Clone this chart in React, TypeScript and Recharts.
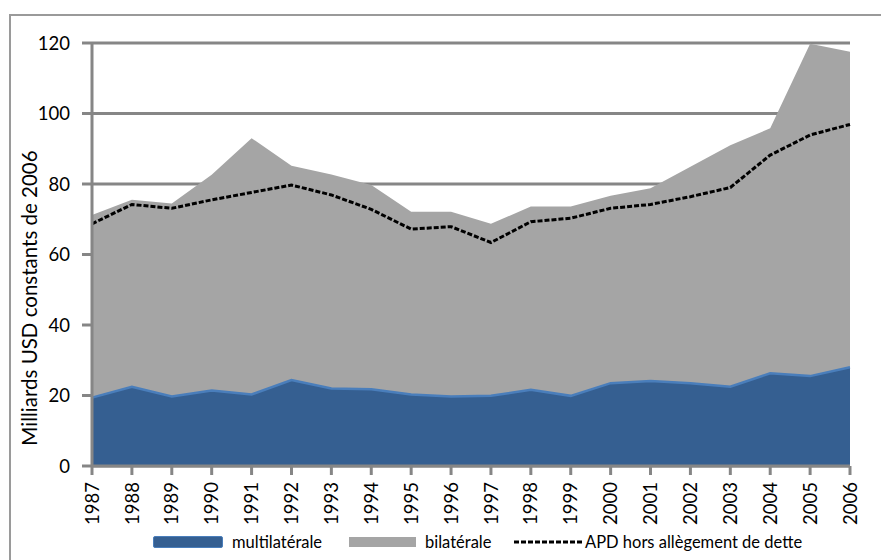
import {
  ComposedChart,
  Area,
  Line,
  XAxis,
  YAxis,
  CartesianGrid,
  Legend,
} from "recharts";

const years = [
  "1987", "1988", "1989", "1990", "1991", "1992", "1993", "1994", "1995", "1996",
  "1997", "1998", "1999", "2000", "2001", "2002", "2003", "2004", "2005", "2006",
];

// aide multilatérale (bas de la pile)
const multilaterale = [
  19.4, 22.5, 19.7, 21.4, 20.3, 24.4, 22.0, 21.8, 20.3, 19.7,
  19.9, 21.6, 19.9, 23.5, 24.1, 23.5, 22.5, 26.3, 25.5, 28.0,
];

// aide bilatérale (empilée au-dessus)
const bilaterale = [
  51.8, 53.0, 54.8, 61.2, 72.7, 60.8, 60.7, 57.9, 51.8, 52.4,
  48.8, 52.0, 53.7, 53.2, 54.7, 61.4, 68.5, 69.5, 94.3, 89.5,
];

// APD hors allègement de dette
const apdHorsDette = [
  68.7, 74.2, 73.1, 75.5, 77.6, 79.7, 76.9, 72.8, 67.2, 67.9,
  63.4, 69.3, 70.3, 73.1, 74.2, 76.4, 79.0, 88.2, 93.9, 96.9,
];

const yTicks = [0, 20, 40, 60, 80, 100, 120];

const table = years.map((year, i) => ({
  year,
  multi: multilaterale[i],
  total: multilaterale[i] + bilaterale[i],
  apd: apdHorsDette[i],
}));

const FONT = "Lato, 'Liberation Sans', sans-serif";
const AXIS = "#868686";
const BLUE = "#355f91";
const BLUE_EDGE = "#4a7ebb";
const GREY = "#a5a5a5";

function YearTick(props: any) {
  const { x, y, payload } = props;
  return (
    <text
      x={x}
      y={y + 5}
      transform={`rotate(-90, ${x}, ${y + 5})`}
      textAnchor="end"
      dy="0.36em"
      fontSize={18.5}
      fontFamily={FONT}
      fill="#000"
    >
      {payload.value}
    </text>
  );
}

function YLabel() {
  return (
    <text
      x={30}
      y={298}
      transform="rotate(-90, 30, 298)"
      textAnchor="middle"
      dy="0.36em"
      fontSize={20.5}
      fontFamily={FONT}
      fill="#000"
    >
      Milliards USD constants de 2006
    </text>
  );
}

function LegendBox() {
  const txt: React.CSSProperties = {
    position: "absolute",
    top: 0,
    fontSize: 16.5,
    fontFamily: FONT,
    lineHeight: "20px",
    color: "#000",
    whiteSpace: "nowrap",
  };
  return (
    <div style={{ position: "relative", width: 700, height: 20 }}>
      <div
        style={{
          position: "absolute",
          left: 0,
          top: 4,
          width: 68,
          height: 10,
          background: BLUE,
          border: `1.5px solid ${BLUE_EDGE}`,
          borderRadius: 2,
        }}
      />
      <span style={{ ...txt, left: 79 }}>multilatérale</span>
      <div
        style={{
          position: "absolute",
          left: 196,
          top: 5,
          width: 67,
          height: 10,
          background: GREY,
        }}
      />
      <span style={{ ...txt, left: 272 }}>bilatérale</span>
      <svg
        width={70}
        height={20}
        style={{ position: "absolute", left: 360, top: 0 }}
      >
        <line
          x1={1}
          y1={10}
          x2={69}
          y2={10}
          stroke="#000"
          strokeWidth={3}
          strokeDasharray="5 2"
        />
      </svg>
      <span style={{ ...txt, left: 432 }}>APD hors allègement de dette</span>
    </div>
  );
}

export default function App() {
  return (
    <div
      style={{
        position: "absolute",
        left: 0,
        top: 0,
        width: 881,
        height: 560,
        background: "#fff",
        overflow: "hidden",
      }}
    >
      <div
        style={{
          position: "absolute",
          left: 9,
          top: 14,
          width: 900,
          height: 600,
          borderLeft: "2px solid #9a9a9a",
          borderTop: "2px solid #9a9a9a",
        }}
      />
      <div style={{ position: "absolute", left: 0, top: 0 }}>
        <ComposedChart
          width={881}
          height={560}
          data={table}
          margin={{ top: 43, right: 31, bottom: 34, left: 0 }}
        >
          <CartesianGrid vertical={false} stroke={AXIS} strokeWidth={3} />
          <XAxis
            dataKey="year"
            scale="point"
            interval={0}
            height={60}
            tick={<YearTick />}
            tickSize={9}
            axisLine={{ stroke: AXIS, strokeWidth: 3 }}
            tickLine={{ stroke: AXIS, strokeWidth: 3 }}
          />
          <YAxis
            width={92}
            domain={[0, 120]}
            ticks={yTicks}
            allowDataOverflow
            tickSize={10}
            tickMargin={12}
            tick={{ fill: "#000", fontSize: 18.5, fontFamily: FONT }}
            axisLine={{ stroke: AXIS, strokeWidth: 3 }}
            tickLine={{ stroke: AXIS, strokeWidth: 3 }}
            label={<YLabel />}
          />
          <Area
            type="linear"
            dataKey="total"
            name="bilatérale"
            fill={GREY}
            fillOpacity={1}
            stroke="none"
            isAnimationActive={false}
          />
          <Area
            type="linear"
            dataKey="multi"
            name="multilatérale"
            fill={BLUE}
            fillOpacity={1}
            stroke={BLUE_EDGE}
            strokeWidth={2.5}
            isAnimationActive={false}
          />
          <Line
            type="linear"
            dataKey="apd"
            name="APD hors allègement de dette"
            stroke="#000"
            strokeWidth={3}
            strokeDasharray="5 2"
            dot={false}
            isAnimationActive={false}
          />
          <Legend
            layout="vertical"
            align="center"
            verticalAlign="middle"
            wrapperStyle={{ left: 153, top: 532, width: 700 }}
            content={() => <LegendBox />}
          />
        </ComposedChart>
      </div>
    </div>
  );
}
